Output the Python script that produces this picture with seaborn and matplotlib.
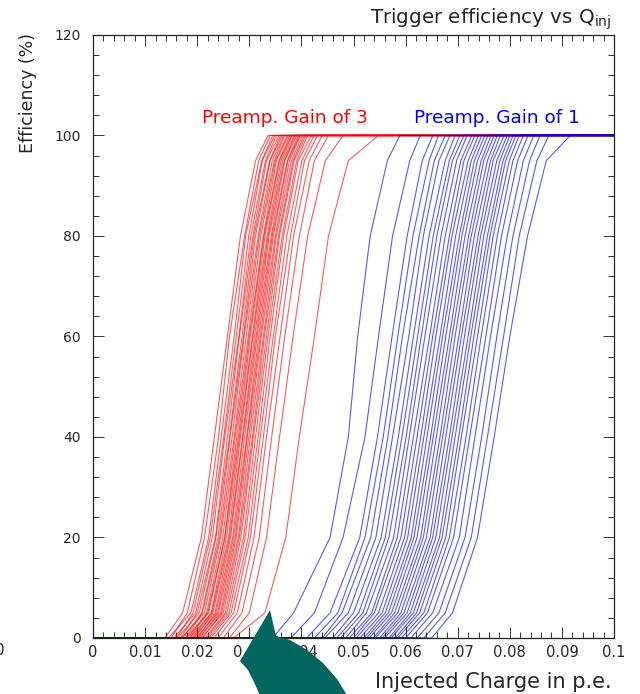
import numpy as np
import pandas as pd
import matplotlib
matplotlib.use("Agg")
import matplotlib.pyplot as plt
from matplotlib.patches import Polygon
from matplotlib.ticker import MultipleLocator, FixedLocator, FixedFormatter
import seaborn as sns

# %%
# Efficiency levels (%) at which each curve's injected charge was read off
eff_levels = [0, 5, 20, 40, 60, 80, 95, 100]

# Preamp gain 3 : charge (p.e.) at each efficiency level, one row per channel
gain3_curves = [
    [0.0138, 0.0172, 0.0208, 0.0233, 0.0258, 0.0283, 0.0312, 0.0336],
    [0.0150, 0.0181, 0.0214, 0.0241, 0.0262, 0.0291, 0.0318, 0.0340],
    [0.0145, 0.0188, 0.0222, 0.0246, 0.0271, 0.0293, 0.0324, 0.0345],
    [0.0160, 0.0192, 0.0225, 0.0251, 0.0275, 0.0299, 0.0325, 0.0349],
    [0.0155, 0.0197, 0.0229, 0.0253, 0.0280, 0.0303, 0.0331, 0.0352],
    [0.0168, 0.0200, 0.0235, 0.0258, 0.0281, 0.0307, 0.0333, 0.0357],
    [0.0162, 0.0204, 0.0236, 0.0262, 0.0286, 0.0309, 0.0339, 0.0360],
    [0.0172, 0.0209, 0.0240, 0.0263, 0.0289, 0.0312, 0.0340, 0.0363],
    [0.0178, 0.0210, 0.0243, 0.0267, 0.0290, 0.0317, 0.0344, 0.0366],
    [0.0170, 0.0214, 0.0245, 0.0271, 0.0294, 0.0319, 0.0348, 0.0368],
    [0.0182, 0.0218, 0.0249, 0.0273, 0.0298, 0.0322, 0.0350, 0.0373],
    [0.0185, 0.0220, 0.0253, 0.0276, 0.0300, 0.0327, 0.0352, 0.0375],
    [0.0178, 0.0222, 0.0253, 0.0279, 0.0302, 0.0328, 0.0357, 0.0378],
    [0.0190, 0.0227, 0.0256, 0.0281, 0.0306, 0.0330, 0.0358, 0.0381],
    [0.0186, 0.0228, 0.0260, 0.0283, 0.0307, 0.0334, 0.0361, 0.0382],
    [0.0195, 0.0230, 0.0262, 0.0287, 0.0310, 0.0336, 0.0364, 0.0386],
    [0.0192, 0.0234, 0.0264, 0.0288, 0.0313, 0.0338, 0.0367, 0.0388],
    [0.0200, 0.0236, 0.0268, 0.0291, 0.0315, 0.0342, 0.0368, 0.0391],
    [0.0198, 0.0239, 0.0270, 0.0295, 0.0318, 0.0344, 0.0373, 0.0394],
    [0.0205, 0.0241, 0.0273, 0.0296, 0.0321, 0.0346, 0.0374, 0.0397],
    [0.0202, 0.0245, 0.0275, 0.0299, 0.0323, 0.0350, 0.0377, 0.0398],
    [0.0210, 0.0247, 0.0279, 0.0302, 0.0327, 0.0352, 0.0381, 0.0402],
    [0.0208, 0.0250, 0.0281, 0.0306, 0.0329, 0.0356, 0.0384, 0.0406],
    [0.0215, 0.0254, 0.0284, 0.0308, 0.0333, 0.0358, 0.0386, 0.0409],
    [0.0218, 0.0257, 0.0289, 0.0312, 0.0336, 0.0363, 0.0391, 0.0412],
    [0.0222, 0.0261, 0.0292, 0.0317, 0.0340, 0.0366, 0.0394, 0.0419],
    [0.0226, 0.0265, 0.0298, 0.0321, 0.0346, 0.0372, 0.0401, 0.0424],
    [0.0232, 0.0270, 0.0302, 0.0327, 0.0350, 0.0379, 0.0406, 0.0431],
    [0.0240, 0.0277, 0.0309, 0.0333, 0.0359, 0.0385, 0.0415, 0.0440],
    [0.0250, 0.0286, 0.0319, 0.0343, 0.0368, 0.0396, 0.0425, 0.0452],
    [0.0262, 0.0300, 0.0333, 0.0358, 0.0384, 0.0412, 0.0446, 0.0480],
    [0.0270, 0.0330, 0.0370, 0.0396, 0.0425, 0.0452, 0.0490, 0.0548],
]

# Preamp gain 1
gain1_curves = [
    [0.0345, 0.0385, 0.0455, 0.0490, 0.0508, 0.0532, 0.0565, 0.0589],
    [0.0380, 0.0425, 0.0480, 0.0522, 0.0548, 0.0575, 0.0608, 0.0628],
    [0.0410, 0.0455, 0.0512, 0.0546, 0.0574, 0.0603, 0.0632, 0.0652],
    [0.0425, 0.0470, 0.0522, 0.0557, 0.0585, 0.0614, 0.0645, 0.0663],
    [0.0440, 0.0478, 0.0533, 0.0566, 0.0594, 0.0626, 0.0655, 0.0676],
    [0.0445, 0.0490, 0.0543, 0.0575, 0.0606, 0.0634, 0.0664, 0.0685],
    [0.0460, 0.0500, 0.0553, 0.0586, 0.0615, 0.0645, 0.0676, 0.0695],
    [0.0468, 0.0510, 0.0561, 0.0593, 0.0623, 0.0653, 0.0684, 0.0704],
    [0.0475, 0.0518, 0.0568, 0.0601, 0.0630, 0.0660, 0.0690, 0.0712],
    [0.0485, 0.0525, 0.0577, 0.0607, 0.0637, 0.0668, 0.0698, 0.0718],
    [0.0492, 0.0535, 0.0584, 0.0615, 0.0646, 0.0676, 0.0706, 0.0727],
    [0.0500, 0.0540, 0.0591, 0.0622, 0.0652, 0.0684, 0.0712, 0.0733],
    [0.0505, 0.0548, 0.0598, 0.0629, 0.0658, 0.0689, 0.0720, 0.0740],
    [0.0512, 0.0555, 0.0604, 0.0635, 0.0666, 0.0696, 0.0726, 0.0746],
    [0.0520, 0.0561, 0.0611, 0.0641, 0.0671, 0.0703, 0.0732, 0.0752],
    [0.0525, 0.0567, 0.0616, 0.0648, 0.0677, 0.0708, 0.0738, 0.0758],
    [0.0530, 0.0573, 0.0622, 0.0653, 0.0684, 0.0714, 0.0745, 0.0764],
    [0.0538, 0.0579, 0.0629, 0.0659, 0.0689, 0.0721, 0.0750, 0.0770],
    [0.0542, 0.0585, 0.0634, 0.0666, 0.0695, 0.0726, 0.0757, 0.0776],
    [0.0550, 0.0591, 0.0640, 0.0671, 0.0702, 0.0732, 0.0763, 0.0782],
    [0.0555, 0.0597, 0.0647, 0.0677, 0.0707, 0.0739, 0.0768, 0.0789],
    [0.0560, 0.0603, 0.0652, 0.0684, 0.0713, 0.0744, 0.0775, 0.0795],
    [0.0568, 0.0609, 0.0658, 0.0689, 0.0720, 0.0750, 0.0781, 0.0800],
    [0.0572, 0.0615, 0.0665, 0.0695, 0.0725, 0.0757, 0.0787, 0.0806],
    [0.0580, 0.0621, 0.0670, 0.0702, 0.0731, 0.0762, 0.0792, 0.0812],
    [0.0585, 0.0627, 0.0677, 0.0707, 0.0738, 0.0768, 0.0799, 0.0818],
    [0.0592, 0.0635, 0.0684, 0.0716, 0.0745, 0.0776, 0.0806, 0.0826],
    [0.0600, 0.0642, 0.0692, 0.0723, 0.0754, 0.0784, 0.0815, 0.0835],
    [0.0610, 0.0652, 0.0703, 0.0733, 0.0763, 0.0795, 0.0826, 0.0846],
    [0.0622, 0.0664, 0.0714, 0.0746, 0.0775, 0.0806, 0.0838, 0.0858],
    [0.0635, 0.0676, 0.0726, 0.0757, 0.0788, 0.0818, 0.0852, 0.0875],
    [0.0650, 0.0690, 0.0738, 0.0770, 0.0800, 0.0834, 0.0870, 0.0916],
]

x_ticks = [0, 0.01, 0.02, 0.03, 0.04, 0.05, 0.06, 0.07, 0.08, 0.09, 0.1]
x_tick_labels = ["0", "0.01", "0.02", "0.03", "0.04", "0.05", "0.06", "0.07", "0.08", "0.09", "0.1"]
y_ticks = [0, 20, 40, 60, 80, 100, 120]
y_tick_labels = ["0", "20", "40", "60", "80", "100", "120"]

x_min, x_max = 0.0, 0.1

# %%
# Long table: every curve is flat at 0 from the axis start and flat at 100 to the axis end
rows = []
for gain, curves in [("3", gain3_curves), ("1", gain1_curves)]:
    for i, xs in enumerate(curves):
        cid = f"g{gain}_{i}"
        rows.append((gain, cid, x_min, 0))
        for x, e in zip(xs, eff_levels):
            rows.append((gain, cid, x, e))
        rows.append((gain, cid, x_max, 100))
df = pd.DataFrame(rows, columns=["gain", "curve", "charge", "eff"])

# %%
sns.set_style("ticks")
plt.rcParams["font.family"] = ["DejaVu Sans"]

fig = plt.figure(figsize=(6.4, 6.94), dpi=100)
ax = fig.add_axes([0.1453, 0.0807, 0.8141, 0.8689])

sns.lineplot(
    data=df,
    x="charge",
    y="eff",
    hue="gain",
    units="curve",
    estimator=None,
    palette={"3": "#ff0000", "1": "#0000ff"},
    linewidth=0.8,
    alpha=0.65,
    legend=False,
    ax=ax,
)

ax.set_xlim(x_min, x_max)
ax.set_ylim(0, 120)
ax.xaxis.set_major_locator(FixedLocator(x_ticks))
ax.xaxis.set_major_formatter(FixedFormatter(x_tick_labels))
ax.yaxis.set_major_locator(FixedLocator(y_ticks))
ax.yaxis.set_major_formatter(FixedFormatter(y_tick_labels))
ax.xaxis.set_minor_locator(MultipleLocator(0.002))
ax.yaxis.set_minor_locator(MultipleLocator(4))
ax.tick_params(which="both", direction="in", top=True, right=True, width=0.7, color="#333333")
ax.tick_params(which="major", length=8)
ax.tick_params(which="minor", length=4)
ax.tick_params(axis="x", labelsize=10.5, pad=5)
ax.tick_params(axis="y", labelsize=10, pad=9)
ax.set_xlabel("")
ax.set_ylabel("")
for s in ax.spines.values():
    s.set_linewidth(0.9)
    s.set_color("#222222")

ax.text(0.0368, 103.5, "Preamp. Gain of 3", color="#ff0000", fontsize=13.3, ha="center", va="center")
ax.text(0.0776, 103.5, "Preamp. Gain of 1", color="#0000ff", fontsize=13.3, ha="center", va="center")

fig.text(0.956, 0.9726, r"Trigger efficiency vs Q$_{\rm inj}$", fontsize=14.3, ha="right", va="center")
fig.text(0.956, 0.0173, "Injected Charge in p.e.", fontsize=15, ha="right", va="center")
fig.text(0.0438, 0.9524, "Efficiency (%)", fontsize=12.5, rotation=90, ha="center", va="top")
# stray "0" at the very left edge, half cut off as in the reference
fig.text(0.0, 0.0620, "0", fontsize=11, ha="center", va="center")

# teal arrow overlay (pixel outline of the reference)
arrow_px = [
    (270, 610), (276, 636), (290, 640), (307, 650), (323, 663),
    (337, 679), (350, 700), (262, 700), (254, 682), (248, 670), (240, 661),
]
arrow = Polygon(
    [(px / 640, 1 - py / 694) for px, py in arrow_px],
    closed=True, transform=fig.transFigure, facecolor="#01665e", edgecolor="none", zorder=10,
)
fig.patches.append(arrow)

fig.savefig("out.png", dpi=100)
